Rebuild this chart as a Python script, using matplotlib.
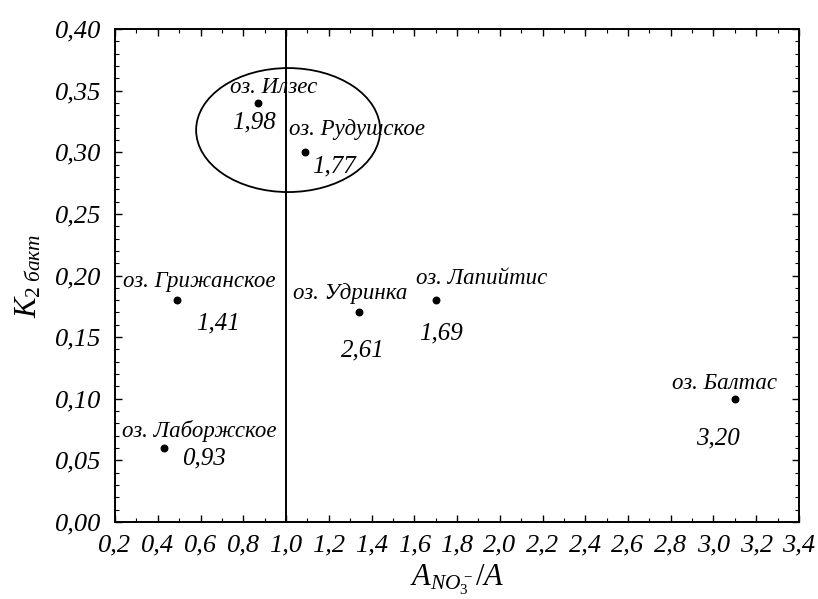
import matplotlib
matplotlib.use("Agg")
import matplotlib.pyplot as plt
from matplotlib.patches import Ellipse
from matplotlib.ticker import MultipleLocator, FuncFormatter

plt.rcParams['font.family'] = ['Liberation Serif', 'DejaVu Serif']
plt.rcParams['mathtext.fontset'] = 'custom'
plt.rcParams['mathtext.rm'] = 'Liberation Serif'
plt.rcParams['mathtext.it'] = 'Liberation Serif:italic'

# lakes: ratio A_NO3/A, K2 bact, value label
lakes = ['оз. Илзес', 'оз. Рудушское', 'оз. Грижанское', 'оз. Удринка',
         'оз. Лапийтис', 'оз. Балтас', 'оз. Лаборжское']
x_vals = [0.87, 1.09, 0.49, 1.34, 1.70, 3.10, 0.43]
y_vals = [0.34, 0.30, 0.18, 0.17, 0.18, 0.10, 0.06]
values = ['1,98', '1,77', '1,41', '2,61', '1,69', '3,20', '0,93']

# label offsets in pixels (name, number)
name_off = [(-28, 15), (-16, 23), (-54, 19), (-66, 19), (-20, 22), (-63, 15), (-42, 17)]
num_off = [(-26, -20), (7, -14), (19, -23), (-18, -38), (-17, -33), (-39, -40), (18, -10)]

fig = plt.figure(figsize=(8.18, 5.99), dpi=100)
ax = fig.add_axes([115/818, 1 - 522/599, 684/818, 493/599])

ax.scatter(x_vals, y_vals, s=22, color='black', zorder=3)
ax.axvline(1.0, color='black', lw=1.4)
ax.add_patch(Ellipse((1.01, 0.318), 0.861, 0.1006, fill=False, ec='black', lw=1.3))

for i in range(len(lakes)):
    ax.annotate(lakes[i], (x_vals[i], y_vals[i]), xytext=name_off[i],
                textcoords='offset pixels', ha='left', va='center',
                fontsize=16.5, style='italic')
    ax.annotate(values[i], (x_vals[i], y_vals[i]), xytext=num_off[i],
                textcoords='offset pixels', ha='left', va='center',
                fontsize=18, style='italic')

ax.set_xlim(0.2, 3.4)
ax.set_ylim(0, 0.4)
ax.xaxis.set_major_locator(MultipleLocator(0.2))
ax.xaxis.set_minor_locator(MultipleLocator(0.1))
ax.yaxis.set_major_locator(MultipleLocator(0.05))
ax.yaxis.set_minor_locator(MultipleLocator(0.01))
ax.xaxis.set_major_formatter(FuncFormatter(lambda v, p: f'{v:.1f}'.replace('.', ',')))
ax.yaxis.set_major_formatter(FuncFormatter(lambda v, p: f'{v:.2f}'.replace('.', ',')))
ax.tick_params(which='both', direction='in', top=True, right=True, labelsize=19)
ax.tick_params(axis='x', which='major', pad=9)
ax.tick_params(axis='y', which='major', pad=10)
ax.tick_params(which='major', length=5, width=1)
ax.tick_params(which='minor', length=3, width=0.8)
for lab in ax.get_xticklabels() + ax.get_yticklabels():
    lab.set_style('italic')
for s in ax.spines.values():
    s.set_linewidth(1.4)

ax.set_xlabel(r'$A_{NO_3^-}/A$', fontsize=22, labelpad=4)
ax.set_ylabel(r'$K_{2\ бакт}$', fontsize=22, labelpad=8)

fig.savefig('out.png', dpi=100)
